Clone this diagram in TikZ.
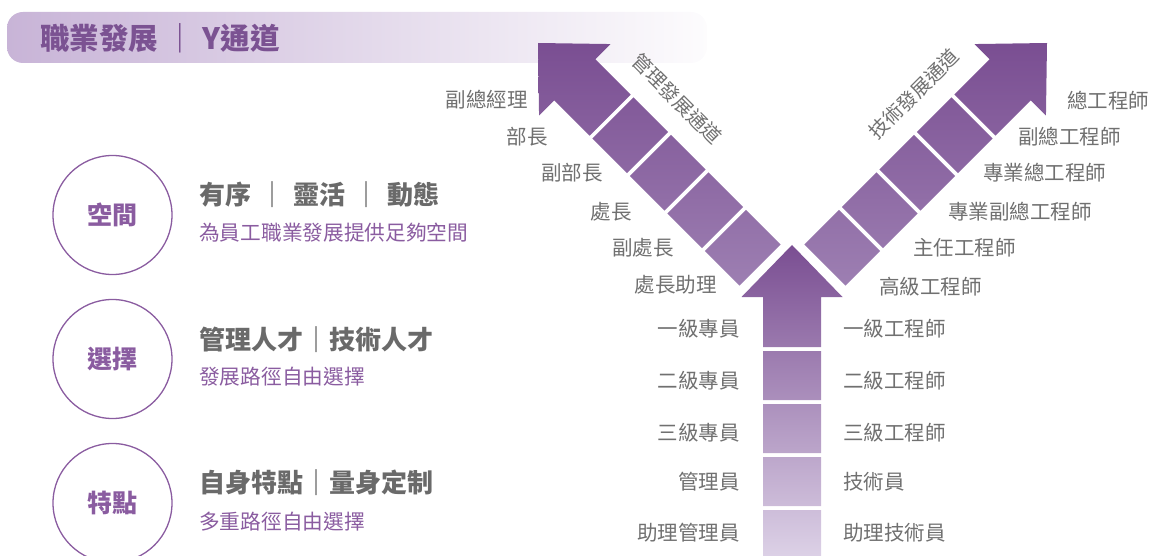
\documentclass[tikz,border=0pt]{standalone}
\usepackage{fontspec}
\setmainfont{Noto Sans CJK TC}
\definecolor{ypurple}{HTML}{7A4E92}
\definecolor{ymid}{HTML}{9D7FB2}
\definecolor{ylight}{HTML}{DDD2E7}
\definecolor{barpurple}{HTML}{C8B4D7}
\definecolor{labelgray}{HTML}{707070}
\definecolor{headgray}{HTML}{6A6A6A}
\definecolor{subpurple}{HTML}{8A5CA0}
\definecolor{titlepurple}{HTML}{7B5292}
\tikzset{ladder/.pic={code={%

      % arrow head with its shaft, then four steps
      \shade [ladder fill] (0,0) -- (50.5,-52) -- (29,-52) -- (29,-102)
        -- (-29,-102) -- (-29,-52) -- (-50.5,-52) -- cycle
        (-29,-106) rectangle (29,-155)
        (-29,-159) rectangle (29,-208)
        (-29,-212) rectangle (29,-261)
        (-29,-265) rectangle (29,-314);

}}}
\newcommand{\sepbar}{\hspace{8pt}｜\hspace{8pt}}
\begin{document}
\begin{tikzpicture}[x=1pt,y=1pt,
    lbl/.style={inner sep=0pt, text=labelgray, font=\fontsize{20.5}{24}\selectfont},
    road/.style={lbl, font=\fontsize{19.5}{23}\selectfont},
    ring/.style={circle, draw=subpurple, line width=1.3pt, minimum size=119pt,
      text=subpurple, font=\fontsize{25}{30}\selectfont\bfseries},
    headline/.style={inner sep=0pt, anchor=west, text=headgray,
      font=\fontsize{26}{30}\selectfont\bfseries},
    subline/.style={inner sep=0pt, anchor=west, text=subpurple,
      font=\fontsize{20.7}{24}\selectfont}]
    \useasboundingbox (0,0) rectangle (1153,555);
    % set coordinates
    \coordinate (L) at (538,512);
    \coordinate (R) at (1047,512);
    \coordinate (S) at (792,310);
    % draw figure
    \shade [left color=barpurple, middle color=barpurple!75!white,
      right color=white!96!barpurple, rounded corners=16] (7,492) rectangle (707,543);
    \pic [rotate=45, ladder fill/.style={top color=ypurple, bottom color=ymid}] at (L) {ladder};
    \pic [rotate=-45, ladder fill/.style={top color=ypurple, bottom color=ymid}] at (R) {ladder};
    \pic [ladder fill/.style={top color=ypurple, bottom color=ylight}] at (S) {ladder};
    % add labels
    \node (title) [inner sep=0pt, anchor=west, text=titlepurple,
      font=\fontsize{29.5}{34}\selectfont\bfseries] at (40,517)
      {職業發展\hspace{7.5pt}｜\hspace{7.5pt}Y通道};
    \node (mroad) [road, rotate=-45] at (677,456) {管理發展通道};
    \node (troad) [road, rotate=45] at (914,461) {技術發展通道};
    % management side
    \node (m1) [lbl, left] at (528,455) {副總經理};
    \node (m2) [lbl, left] at (548,418) {部長};
    \node (m3) [lbl, left] at (603,382) {副部長};
    \node (m4) [lbl, left] at (632,343) {處長};
    \node (m5) [lbl, left] at (674,307) {副處長};
    \node (m6) [lbl, left] at (717,270) {處長助理};
    % technical side
    \node (t1) [lbl, right] at (1067,454) {總工程師};
    \node (t2) [lbl, right] at (1018,418) {副總工程師};
    \node (t3) [lbl, right] at (983,382) {專業總工程師};
    \node (t4) [lbl, right] at (948,343) {專業副總工程師};
    \node (t5) [lbl, right] at (913,307) {主任工程師};
    \node (t6) [lbl, right] at (879,268) {高級工程師};
    % common trunk
    \node (c1) [lbl, left] at (740,226) {一級專員};
    \node (c2) [lbl, left] at (740,174) {二級專員};
    \node (c3) [lbl, left] at (740,122) {三級專員};
    \node (c4) [lbl, left] at (740,73) {管理員};
    \node (c5) [lbl, left] at (740,22) {助理管理員};
    \node (e1) [lbl, right] at (843,226) {一級工程師};
    \node (e2) [lbl, right] at (843,174) {二級工程師};
    \node (e3) [lbl, right] at (843,122) {三級工程師};
    \node (e4) [lbl, right] at (843,73) {技術員};
    \node (e5) [lbl, right] at (843,22) {助理技術員};
    % left column
    \node (space) [ring] at (112.5,340) {空間};
    \node (choice) [ring] at (112.5,196) {選擇};
    \node (trait) [ring] at (112.5,52) {特點};
    \node (h1) [headline] at (199,360) {有序\sepbar 靈活\sepbar 動態};
    \node (s1) [subline] at (199,322) {為員工職業發展提供足夠空間};
    \node (h2) [headline] at (199,215) {管理人才｜技術人才};
    \node (s2) [subline] at (199,178) {發展路徑自由選擇};
    \node (h3) [headline] at (199,72) {自身特點｜量身定制};
    \node (s3) [subline] at (199,33) {多重路徑自由選擇};
\end{tikzpicture}
\end{document}
